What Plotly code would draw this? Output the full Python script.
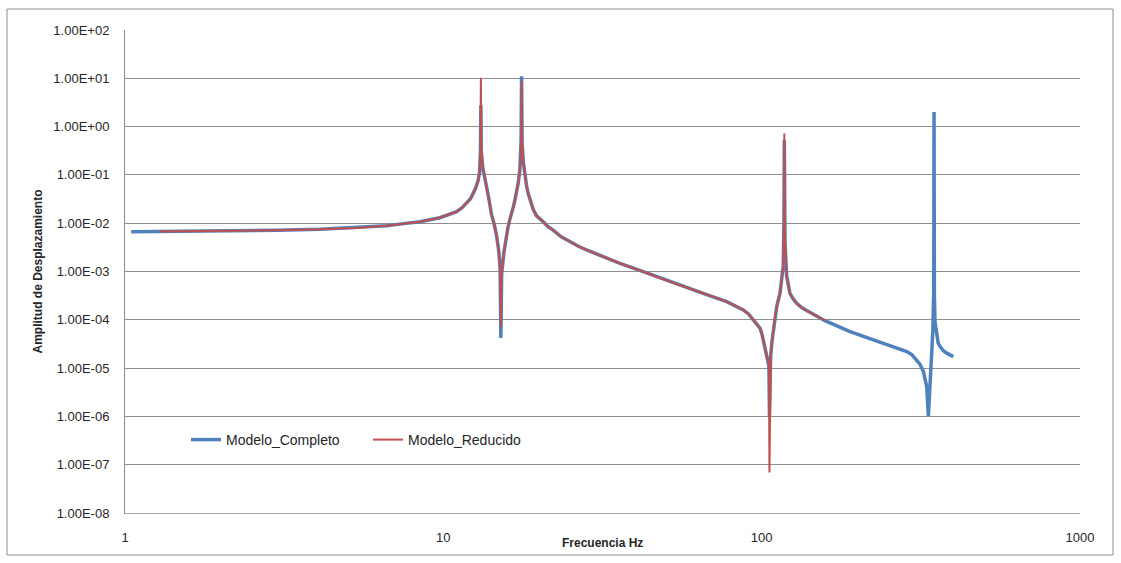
import plotly.graph_objects as go

# ---- data ----
freq_completo = [1.046, 1.28, 1.984, 3.0, 4.09, 5.3, 6.63, 7.5, 8.44, 9.75, 10.48, 11.0, 11.43, 11.83,
                 12.16, 12.41, 12.65, 12.87, 13.0, 13.08, 13.12, 13.16, 13.3, 13.46, 13.67, 13.9,
                 14.17, 14.45, 14.70, 14.95, 15.08, 15.16, 15.25, 15.5, 15.75, 15.95, 16.18, 16.4,
                 16.6, 16.8, 16.98, 17.2, 17.39, 17.55, 17.61, 17.68, 17.84, 18.04, 18.26, 18.48,
                 18.77, 19.15, 19.6, 20.11, 20.59, 21.3, 22.13, 23.4, 24.98, 26.47, 28.18, 31.03,
                 35.86, 42.46, 51.5, 65.5, 77.6, 82.45, 87.5, 90.9, 94.1, 96.7, 98.8, 100.2, 101.2,
                 102.4, 103.7, 104.7, 105.4, 105.8, 106.7, 107.7, 108.8, 110.1, 111.5, 112.8, 114.2,
                 116.1, 116.9, 117.5, 117.8, 118.4, 119.8, 122.7, 125.6, 128.8, 133.5, 138.5, 145.0,
                 152.5, 158.1, 189.5, 212.7, 241.1, 262.4, 285.6, 296.8, 307.0, 314.5, 322.0, 326.1,
                 330.0, 333.9, 338.0, 342.0, 345.0, 347.2, 347.9, 348.8, 350.4, 354.8, 358.5, 363.4,
                 372.2, 381.4, 400.0]
amp_completo = [0.00665, 0.00672, 0.00688, 0.00712, 0.00746, 0.0080, 0.00885, 0.0098, 0.0107, 0.01296,
                0.0151, 0.01725, 0.0206, 0.0257, 0.0316, 0.0414, 0.0546, 0.078, 0.114, 0.3, 2.77,
                0.3, 0.14, 0.1, 0.057, 0.032, 0.015, 0.0095, 0.0055, 0.0025, 0.0011, 4.2e-5, 0.0009,
                0.0025, 0.005, 0.008, 0.012, 0.016, 0.022, 0.031, 0.044, 0.07, 0.126, 0.5, 11.0,
                0.45, 0.18, 0.0912, 0.0586, 0.041, 0.0301, 0.0194, 0.0144, 0.0125, 0.0107, 0.00851,
                0.0072, 0.0053, 0.00413, 0.00337, 0.00279, 0.00214, 0.00148, 0.00099, 0.000615,
                0.000354, 0.000238, 1.98e-4, 1.6e-4, 1.32e-4, 1.02e-4, 8.0e-5, 6.7e-5, 5.1e-5,
                3.84e-5, 2.81e-5, 2.04e-5, 1.48e-5, 1.07e-5, 1.0e-6, 1.73e-5, 3.5e-5, 6.17e-5,
                1.15e-4, 1.87e-4, 2.57e-4, 3.54e-4, 9.0e-4, 1.3e-3, 0.01, 0.52, 0.004, 8.1e-4,
                3.54e-4, 2.7e-4, 2.2e-4, 1.8e-4, 1.55e-4, 1.3e-4, 1.09e-4, 9.6e-5, 5.7e-5, 4.4e-5,
                3.27e-5, 2.68e-5, 2.2e-5, 1.88e-5, 1.48e-5, 1.19e-5, 8.55e-6, 6.3e-6, 4.15e-6,
                1.0e-6, 5.7e-6, 2.0e-5, 6.0e-5, 4.0e-4, 2.01, 3.0e-4, 9.0e-5, 4.5e-5, 3.3e-5,
                2.8e-5, 2.3e-5, 2.04e-5, 1.73e-5]

freq_reducido = [1.28, 1.984, 3.0, 4.09, 5.3, 6.63, 7.5, 8.44, 9.75, 10.48, 11.0, 11.43, 11.83,
                 12.16, 12.41, 12.65, 12.87, 13.0, 13.08, 13.12, 13.16, 13.3, 13.46, 13.67, 13.9,
                 14.17, 14.45, 14.70, 14.95, 15.08, 15.16, 15.25, 15.5, 15.75, 15.95, 16.18, 16.4,
                 16.6, 16.8, 16.98, 17.2, 17.39, 17.55, 17.61, 17.68, 17.84, 18.04, 18.26, 18.48,
                 18.77, 19.15, 19.6, 20.11, 20.59, 21.3, 22.13, 23.4, 24.98, 26.47, 28.18, 31.03,
                 35.86, 42.46, 51.5, 65.5, 77.6, 82.45, 87.5, 90.9, 94.1, 96.7, 98.8, 100.2, 101.2,
                 102.4, 103.7, 104.7, 105.4, 105.8, 106.7, 107.7, 108.8, 110.1, 111.5, 112.8, 114.2,
                 116.1, 116.9, 117.5, 117.8, 118.4, 119.8, 122.7, 125.6, 128.8, 133.5, 138.5, 145.0,
                 152.5, 158.1]
amp_reducido = [0.00672, 0.00688, 0.00712, 0.00746, 0.0080, 0.00885, 0.0098, 0.0107, 0.01296,
                0.0151, 0.01725, 0.0206, 0.0257, 0.0316, 0.0414, 0.0546, 0.078, 0.114, 0.3, 10.3,
                0.3, 0.14, 0.1, 0.057, 0.032, 0.015, 0.0095, 0.0055, 0.0025, 0.0011, 7.2e-5, 0.0009,
                0.0025, 0.005, 0.008, 0.012, 0.016, 0.022, 0.031, 0.044, 0.07, 0.126, 0.5, 8.8,
                0.45, 0.18, 0.0912, 0.0586, 0.041, 0.0301, 0.0194, 0.0144, 0.0125, 0.0107, 0.00851,
                0.0072, 0.0053, 0.00413, 0.00337, 0.00279, 0.00214, 0.00148, 0.00099, 0.000615,
                0.000354, 0.000238, 1.98e-4, 1.6e-4, 1.32e-4, 1.02e-4, 8.0e-5, 6.7e-5, 5.1e-5,
                3.84e-5, 2.81e-5, 2.04e-5, 1.48e-5, 1.07e-5, 6.9e-8, 1.73e-5, 3.5e-5, 6.17e-5,
                1.15e-4, 1.87e-4, 2.57e-4, 3.54e-4, 9.0e-4, 1.3e-3, 0.01, 0.72, 0.004, 8.1e-4,
                3.54e-4, 2.7e-4, 2.2e-4, 1.8e-4, 1.55e-4, 1.3e-4, 1.09e-4, 9.6e-5]

y_tickvals = [1e-8, 1e-7, 1e-6, 1e-5, 1e-4, 1e-3, 1e-2, 1e-1, 1e0, 1e1, 1e2]
y_ticktext = ["1.00E-08", "1.00E-07", "1.00E-06", "1.00E-05", "1.00E-04", "1.00E-03",
              "1.00E-02", "1.00E-01", "1.00E+00", "1.00E+01", "1.00E+02"]
x_tickvals = [1, 10, 100, 1000]
x_ticktext = ["1", "10", "100", "1000"]

FONT = "Liberation Sans, Arial, sans-serif"

fig = go.Figure()
fig.add_trace(go.Scatter(x=freq_completo, y=amp_completo, mode="lines", name="Modelo_Completo",
                         line=dict(color="#4F81BD", width=3.5)))
fig.add_trace(go.Scatter(x=freq_reducido, y=amp_reducido, mode="lines", name="Modelo_Reducido",
                         line=dict(color="#C0504D", width=2)))

L, R, T, B = 125, 41, 30, 50
W, H = 1121, 563
pw, ph = W - L - R, H - T - B

fig.update_layout(
    width=W, height=H,
    margin=dict(l=L, r=R, t=T, b=B),
    paper_bgcolor="white", plot_bgcolor="white",
    font=dict(family=FONT, size=13, color="#262626"),
    showlegend=True,
    legend=dict(orientation="h", x=(186 - L) / pw, xanchor="left",
                y=(H - B - 440) / ph, yanchor="middle",
                bgcolor="rgba(0,0,0,0)", font=dict(size=14, color="#262626"),
                itemwidth=30, entrywidth=137, entrywidthmode="pixels"),
    xaxis=dict(type="log", range=[0, 3], tickvals=x_tickvals, ticktext=x_ticktext,
               showgrid=False, showline=True, linecolor="#A6A6A6", linewidth=1,
               ticks="", ticklabelstandoff=12, zeroline=False),
    yaxis=dict(type="log", range=[-8, 2], tickvals=y_tickvals, ticktext=y_ticktext,
               showgrid=True, gridcolor="#8F8F8F", gridwidth=1,
               showline=True, linecolor="#8F8F8F", linewidth=1,
               ticks="", ticklabelstandoff=12, zeroline=False),
    annotations=[
        dict(text="<b>Amplitud de Desplazamiento</b>", xref="paper", yref="paper",
             x=(37 - L) / pw, y=0.5, textangle=-90, showarrow=False,
             font=dict(size=12, color="#262626"), xanchor="center", yanchor="middle"),
        dict(text="<b>Frecuencia Hz</b>", xref="paper", yref="paper",
             x=(602 - L) / pw, y=(H - B - 543) / ph, showarrow=False,
             font=dict(size=12, color="#262626"), xanchor="center", yanchor="middle"),
    ],
    shapes=[dict(type="rect", xref="paper", yref="paper",
                 x0=(7 - L) / pw, x1=(1113 - L) / pw,
                 y0=(H - B - 555) / ph, y1=(H - B - 9) / ph,
                 line=dict(color="#8C8C8C", width=1), fillcolor="rgba(0,0,0,0)", layer="below")],
)

fig.write_html("out.html")
